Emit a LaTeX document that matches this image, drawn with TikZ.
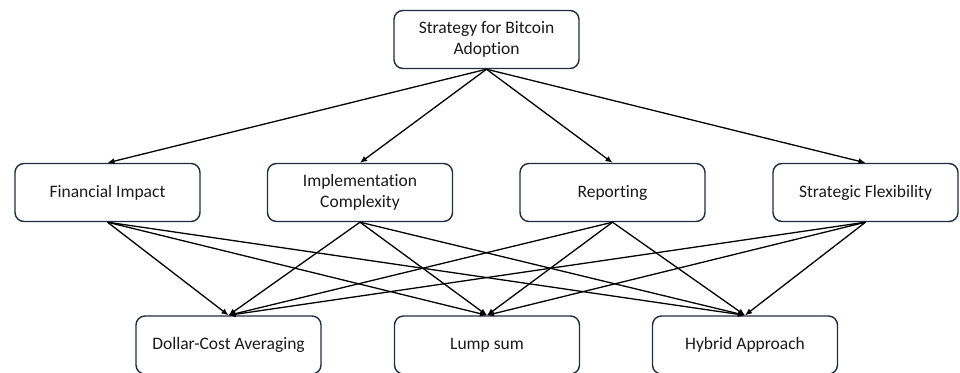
\documentclass[tikz,border=0pt]{standalone}
\usepackage{fontspec}
\setmainfont{Carlito}[Ligatures=NoCommon]
\usetikzlibrary{arrows.meta}
\definecolor{boxline}{HTML}{1F2D40}
\definecolor{txt}{HTML}{1A1A1A}
\tikzset{
  box/.style={draw=boxline, line width=1.4pt, rounded corners=9pt, fill=white,
    minimum width=185pt, minimum height=58pt, align=center, text=txt,
    font=\fontsize{17.5}{21}\selectfont, inner sep=2pt},
  link/.style={draw=black, line width=1.3pt, -{Latex[length=7pt,width=6pt]}}
}
\begin{document}
\begin{tikzpicture}[x=1pt,y=-1pt]
\clip (0,0) rectangle (960,372);
\useasboundingbox (0,0) rectangle (960,372);
\fill[white] (0,0) rectangle (960,372);
% nodes
\node[box] (top) at (486.5,39.5) {Strategy for Bitcoin\\Adoption};
\node[box] (fin) at (107.5,192.5) {Financial Impact};
\node[box] (imp) at (360,192.5) {Implementation\\Complexity};
\node[box] (rep) at (612.5,192.5) {Reporting};
\node[box] (str) at (865.5,192.5) {Strategic Flexibility};
\node[box] (dca) at (228.5,345) {Dollar-Cost Averaging};
\node[box] (lump) at (487,345) {Lump sum};
\node[box] (hyb) at (745,345) {Hybrid Approach};
% connectors
\foreach \m in {fin,imp,rep,str}{
  \draw[link] (top.south) -- (\m.north);
}
\foreach \m in {fin,imp,rep,str}{
  \foreach \b in {dca,lump,hyb}{
    \draw[link] (\m.south) -- (\b.north);
  }
}
\end{tikzpicture}
\end{document}
